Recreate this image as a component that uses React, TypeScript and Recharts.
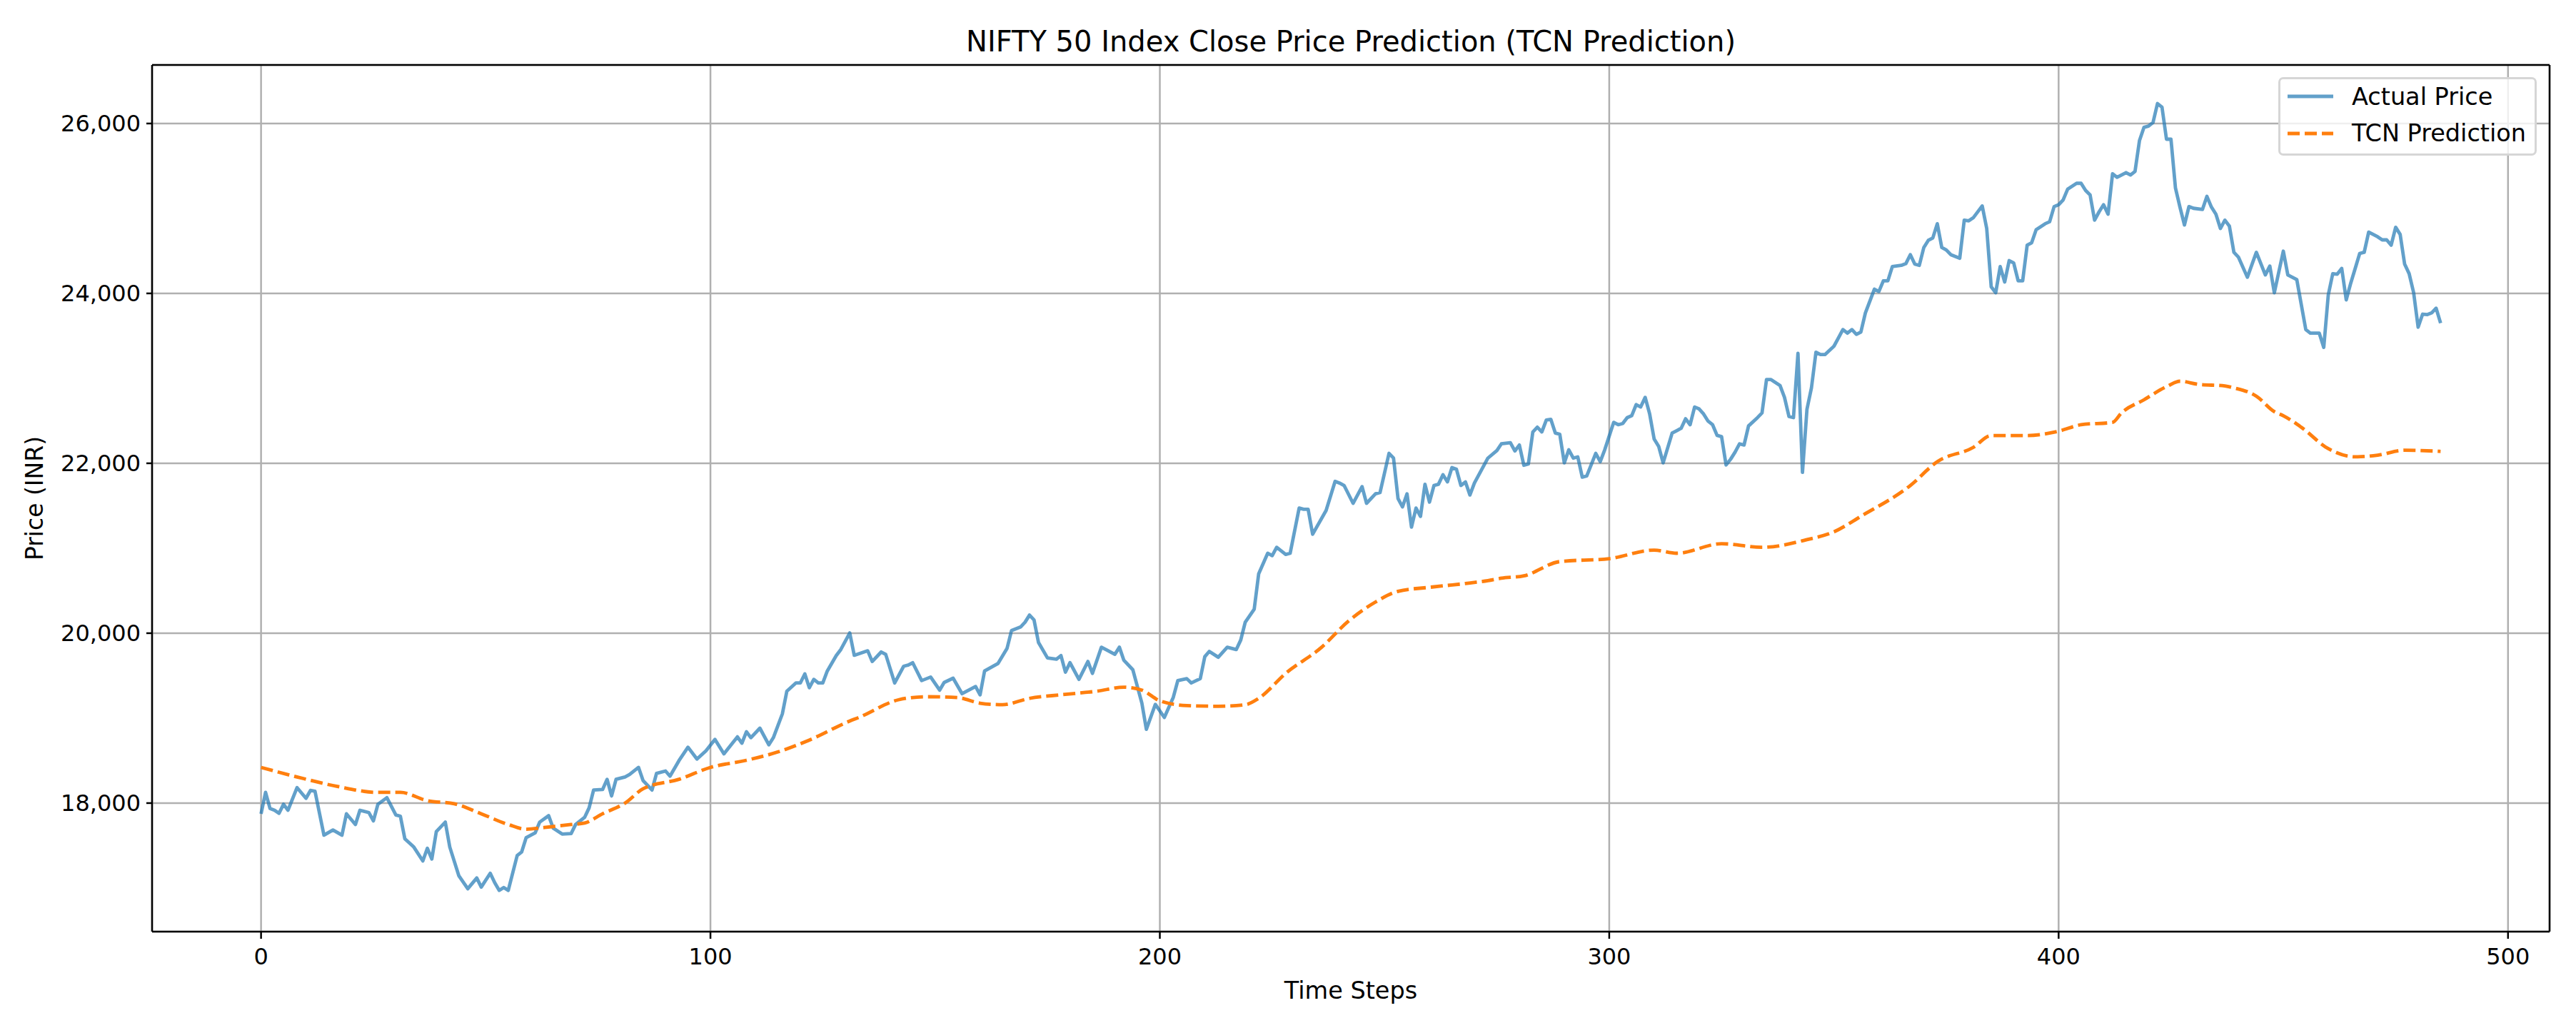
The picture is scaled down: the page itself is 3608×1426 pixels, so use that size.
import React from 'react';
import { LineChart, Line, XAxis, YAxis, CartesianGrid, Legend, ReferenceLine } from 'recharts';

const W = 3608;
const H = 1426;
const FONT = '"DejaVu Sans", sans-serif';

const TITLE = 'NIFTY 50 Index Close Price Prediction (TCN Prediction)';
const X_LABEL = 'Time Steps';
const Y_LABEL = 'Price (INR)';

const xTicks = [0, 100, 200, 300, 400, 500];
const yTicks = [18000, 20000, 22000, 24000, 26000];
const X_DOMAIN: [number, number] = [-24.25, 509.25];
const Y_DOMAIN: [number, number] = [16487, 26689];

// actual close price
const actualSteps = [
  0, 1, 2, 3, 4, 5, 6, 8, 10, 11,
  12, 14, 16, 18, 19, 21, 22, 24, 25, 26,
  28, 30, 31, 32, 34, 36, 37, 38, 39, 41,
  42, 44, 46, 48, 49, 51, 52, 53, 54, 55,
  57, 58, 59, 61, 62, 64, 65, 67, 69, 70,
  72, 73, 74, 76, 77, 78, 79, 81, 82, 84,
  85, 87, 88, 90, 91, 93, 95, 97, 99, 101,
  103, 106, 107, 108, 109, 111, 113, 114, 116, 117,
  119, 120, 121, 122, 123, 124, 125, 126, 128, 129,
  131, 132, 135, 136, 138, 139, 141, 143, 144, 145,
  147, 149, 151, 152, 154, 156, 159, 160, 161, 164,
  166, 167, 169, 170, 171, 172, 173, 175, 177, 178,
  179, 180, 182, 184, 185, 187, 188, 190, 191, 192,
  194, 196, 197, 199, 201, 203, 204, 206, 207, 209,
  210, 211, 213, 215, 217, 218, 219, 221, 222, 224,
  225, 226, 228, 229, 231, 232, 233, 234, 237, 239,
  240, 241, 243, 245, 246, 248, 249, 251, 252, 253,
  254, 255, 256, 257, 258, 259, 260, 261, 262, 263,
  264, 265, 266, 267, 268, 269, 270, 273, 275, 276,
  278, 279, 280, 281, 282, 283, 284, 285, 286, 287,
  288, 289, 290, 291, 292, 293, 294, 295, 297, 298,
  299, 301, 302, 303, 304, 305, 306, 307, 308, 309,
  310, 311, 312, 314, 315, 316, 317, 318, 319, 320,
  321, 322, 323, 324, 325, 326, 327, 328, 329, 330,
  331, 333, 334, 335, 336, 338, 339, 340, 341, 342,
  343, 344, 345, 346, 347, 348, 350, 351, 352, 353,
  354, 355, 356, 357, 359, 360, 361, 362, 363, 365,
  366, 367, 368, 369, 370, 371, 372, 373, 374, 375,
  376, 378, 379, 380, 381, 383, 384, 385, 386, 387,
  388, 389, 390, 391, 392, 393, 394, 395, 397, 398,
  399, 400, 401, 402, 404, 405, 406, 407, 408, 409,
  410, 411, 412, 413, 414, 415, 416, 417, 418, 419,
  420, 421, 422, 423, 424, 425, 426, 427, 428, 429,
  430, 432, 433, 434, 435, 436, 437, 438, 439, 440,
  442, 444, 446, 447, 448, 450, 451, 453, 455, 456,
  458, 459, 460, 461, 462, 463, 464, 465, 467, 468,
  469, 471, 472, 473, 474, 475, 476, 477, 478, 479,
  480, 481, 482, 483, 484, 485,
];

const actualPrice = [
  17874, 18126, 17936, 17916, 17880, 17986, 17916, 18182, 18056, 18149,
  18140, 17622, 17684, 17622, 17874, 17748, 17916, 17888, 17790, 17986,
  18064, 17860, 17846, 17580, 17482, 17319, 17468, 17342, 17664, 17776,
  17482, 17146, 16992, 17118, 17011, 17174, 17062, 16972, 17006, 16972,
  17384, 17426, 17594, 17650, 17776, 17852, 17706, 17636, 17642, 17748,
  17832, 17944, 18154, 18160, 18280, 18084, 18280, 18308, 18336, 18420,
  18266, 18154, 18350, 18378, 18317, 18500, 18658, 18518, 18616, 18750,
  18580, 18780, 18705, 18840, 18770, 18882, 18686, 18770, 19050, 19317,
  19414, 19414, 19521, 19358, 19456, 19414, 19414, 19555, 19737, 19807,
  20003, 19740, 19793, 19667, 19779, 19751, 19414, 19611, 19625, 19653,
  19442, 19484, 19330, 19420, 19470, 19288, 19372, 19274, 19555, 19644,
  19821, 20031, 20073, 20129, 20213, 20157, 19891, 19709, 19695, 19737,
  19541, 19653, 19456, 19667, 19527, 19835, 19807, 19751, 19835, 19681,
  19569, 19177, 18868, 19162, 19008, 19246, 19442, 19465, 19414, 19465,
  19723, 19785, 19717, 19835, 19807, 19919, 20129, 20283, 20700, 20941,
  20913, 21011, 20927, 20941, 21473, 21459, 21459, 21165, 21445, 21787,
  21767, 21739, 21529, 21725, 21529, 21641, 21655, 22117, 22061, 21585,
  21487, 21641, 21249, 21473, 21375, 21753, 21543, 21739, 21753, 21865,
  21781, 21949, 21930, 21739, 21781, 21627, 21767, 22061, 22150, 22229,
  22243, 22145, 22215, 21977, 21991, 22369, 22425, 22369, 22510, 22518,
  22356, 22342, 22005, 22159, 22061, 22075, 21837, 21851, 22117, 22019,
  22159, 22482, 22454, 22468, 22538, 22560, 22691, 22663, 22776, 22580,
  22285, 22200, 22005, 22356, 22384, 22412, 22524, 22454, 22663, 22640,
  22580, 22496, 22454, 22328, 22314, 21980, 22047, 22131, 22229, 22215,
  22440, 22538, 22593, 22986, 22986, 22916, 22776, 22550, 22538, 23294,
  21893, 22636, 22888, 23308, 23280, 23280, 23378, 23476, 23574, 23532,
  23574, 23518, 23546, 23770, 24050, 24022, 24148, 24148, 24316, 24330,
  24350, 24456, 24344, 24330, 24540, 24624, 24652, 24820, 24540, 24512,
  24456, 24414, 24862, 24854, 24890, 25030, 24764, 24078, 24008, 24316,
  24134, 24386, 24358, 24148, 24148, 24568, 24596, 24750, 24820, 24843,
  25022, 25044, 25100, 25226, 25296, 25296, 25212, 25160, 24862, 24960,
  25044, 24932, 25408, 25366, 25394, 25422, 25394, 25436, 25801, 25955,
  25969, 26011, 26235, 26193, 25815, 25815, 25240, 25016, 24806, 25022,
  25002, 24988, 25142, 25016, 24932, 24764, 24862, 24792, 24484, 24428,
  24190, 24484, 24218, 24322, 24008, 24498, 24218, 24162, 23574, 23532,
  23532, 23364, 23980, 24232, 24226, 24294, 23924, 24120, 24470, 24484,
  24722, 24666, 24630, 24630, 24568, 24778, 24694, 24344, 24232, 24008,
  23602, 23756, 23750, 23770, 23826, 23650,
];

// TCN prediction
const predSteps = [
  0, 8, 17, 26, 31, 37, 43, 49, 55, 59,
  63, 69, 72, 76, 81, 85, 93, 100, 108, 115,
  122, 131, 133, 142, 148, 155, 160, 165, 171, 178,
  186, 192, 196, 200, 206, 213, 219, 222, 228, 236,
  242, 248, 253, 260, 268, 273, 276, 281, 289, 300,
  310, 315, 325, 334, 344, 350, 356, 367, 373, 381,
  385, 393, 400, 405, 412, 414, 419, 424, 427, 431,
  437, 439, 444, 448, 450, 454, 460, 466, 471, 477,
  485,
];

const predPrice = [
  18420, 18308, 18196, 18126, 18126, 18028, 17992, 17874, 17748, 17692,
  17712, 17748, 17765, 17874, 18000, 18168, 18280, 18420, 18504, 18602,
  18742, 18966, 19008, 19218, 19252, 19242, 19176, 19158, 19233, 19275,
  19317, 19364, 19330, 19204, 19148, 19140, 19158, 19233, 19527, 19835,
  20143, 20367, 20493, 20540, 20585, 20619, 20647, 20675, 20843, 20877,
  20978, 20941, 21053, 21011, 21101, 21193, 21376, 21739, 22019, 22187,
  22327, 22327, 22378, 22454, 22482, 22594, 22748, 22902, 22966, 22930,
  22910, 22888, 22790, 22608, 22560, 22424, 22173, 22076, 22096, 22154,
  22140,
];

const actualData = actualSteps.map((step, i) => ({ step, price: actualPrice[i] }));
const predData = predSteps.map((step, i) => ({ step, price: predPrice[i] }));

const SERIES = [
  { name: 'Actual Price', color: '#1f77b4', opacity: 0.7, dash: undefined as string | undefined },
  { name: 'TCN Prediction', color: '#ff7f0e', opacity: 1, dash: '17 7' },
];

const LegendBox = () => (
  <div
    style={{
      width: 362,
      height: 110,
      boxSizing: 'border-box',
      border: '3px solid #d6d6d6',
      borderRadius: 7,
      background: 'rgba(255,255,255,0.8)',
    }}
  >
    <svg width={356} height={104} style={{ display: 'block' }}>
      {SERIES.map((s, i) => (
        <g key={s.name}>
          <line
            x1={10}
            x2={74}
            y1={24 + i * 52}
            y2={24 + i * 52}
            stroke={s.color}
            strokeOpacity={s.opacity}
            strokeWidth={4.8}
            strokeDasharray={s.dash}
          />
          <text x={100} y={36 + i * 51} fontSize={33.5} fontFamily={FONT} fill="#000">
            {s.name}
          </text>
        </g>
      ))}
    </svg>
  </div>
);

const tickStyle = { fontSize: 32, fill: '#000', fontFamily: FONT };

export default function App() {
  return (
    <div style={{ position: 'absolute', left: 0, top: 0, width: W, height: H, background: '#fff' }}>
      <LineChart
        width={W}
        height={H}
        margin={{ top: 91, right: 37, bottom: 0, left: 0 }}
        style={{ fontFamily: FONT }}
      >
        <CartesianGrid stroke="#b0b0b0" strokeWidth={2.5} />
        <XAxis
          type="number"
          dataKey="step"
          domain={X_DOMAIN}
          ticks={xTicks}
          interval={0}
          allowDataOverflow
          height={121}
          tickSize={10}
          tickMargin={13}
          tick={tickStyle}
          axisLine={{ stroke: '#000', strokeWidth: 2.5 }}
          tickLine={{ stroke: '#000', strokeWidth: 2.5 }}
        />
        <YAxis
          type="number"
          domain={Y_DOMAIN}
          ticks={yTicks}
          interval={0}
          allowDataOverflow
          width={213}
          tickSize={8}
          tickMargin={8}
          tick={tickStyle}
          tickFormatter={(v: number) => v.toLocaleString('en-US')}
          axisLine={{ stroke: '#000', strokeWidth: 2.5 }}
          tickLine={{ stroke: '#000', strokeWidth: 2.5 }}
        />
        <ReferenceLine y={Y_DOMAIN[1]} stroke="#000" strokeWidth={2.5} ifOverflow="visible" />
        <ReferenceLine x={X_DOMAIN[1]} stroke="#000" strokeWidth={2.5} ifOverflow="visible" />
        <Line
          data={actualData}
          dataKey="price"
          name={SERIES[0].name}
          type="linear"
          stroke={SERIES[0].color}
          strokeOpacity={SERIES[0].opacity}
          strokeWidth={4.8}
          strokeLinejoin="round"
          dot={false}
          activeDot={false}
          isAnimationActive={false}
        />
        <Line
          data={predData}
          dataKey="price"
          name={SERIES[1].name}
          type="monotone"
          stroke={SERIES[1].color}
          strokeWidth={4.8}
          strokeDasharray={SERIES[1].dash}
          dot={false}
          activeDot={false}
          isAnimationActive={false}
        />
        <Legend
          layout="horizontal"
          verticalAlign="middle"
          align="center"
          width={362}
          wrapperStyle={{ left: 3191, top: 108, width: 362, height: 110 }}
          content={() => <LegendBox />}
        />
      </LineChart>
      <svg
        width={W}
        height={H}
        style={{ position: 'absolute', left: 0, top: 0, pointerEvents: 'none' }}
      >
        <text x={1892} y={72} textAnchor="middle" fontSize={40} fontFamily={FONT} fill="#000">
          {TITLE}
        </text>
        <text x={1892} y={1399} textAnchor="middle" fontSize={33.5} fontFamily={FONT} fill="#000">
          {X_LABEL}
        </text>
        <text
          x={60}
          y={698}
          textAnchor="middle"
          fontSize={33}
          fontFamily={FONT}
          fill="#000"
          transform="rotate(-90 60 698)"
        >
          {Y_LABEL}
        </text>
      </svg>
    </div>
  );
}
